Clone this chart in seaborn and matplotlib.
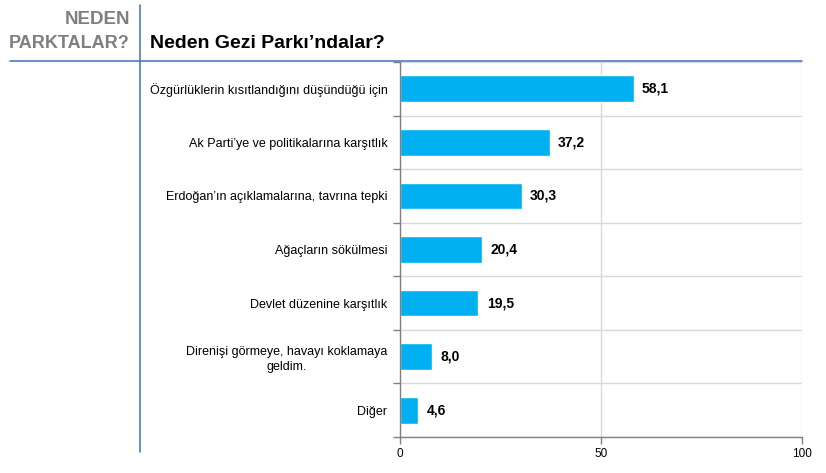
import matplotlib
matplotlib.use("Agg")
import matplotlib.pyplot as plt
import seaborn as sns
import pandas as pd
import numpy as np

categories = [
    "Özgürlüklerin kısıtlandığını düşündüğü için",
    "Ak Parti’ye ve politikalarına karşıtlık",
    "Erdoğan’ın açıklamalarına, tavrına tepki",
    "Ağaçların sökülmesi",
    "Devlet düzenine karşıtlık",
    "Direnişi görmeye, havayı koklamaya\ngeldim.",
    "Diğer",
]
values = [58.1, 37.2, 30.3, 20.4, 19.5, 8.0, 4.6]
value_labels = ["58,1", "37,2", "30,3", "20,4", "19,5", "8,0", "4,6"]
x_ticks = [0, 50, 100]

sns.set_theme(style="white")
plt.rcParams['font.family'] = ['Liberation Sans', 'DejaVu Sans']

df = pd.DataFrame({"cat": categories, "val": values})

fig = plt.figure(figsize=(8.26, 4.73), dpi=100)
ax = fig.add_axes([400/826, 1-437/473, 402/826, 375/473])
sns.barplot(data=df, y="cat", x="val", orient="h", color="#00B0F0",
            saturation=1, width=0.5, ax=ax)

ax.set_xlim(0, 100)
ax.set_ylim(len(categories) - 0.5, -0.5)
ax.set_xticks(x_ticks)
ax.set_xticklabels([str(t) for t in x_ticks], fontsize=8.5, color="black")
ax.set_xlabel("")
ax.set_ylabel("")
ax.set_yticks(range(len(categories)))
ax.set_yticklabels(categories, fontsize=9, linespacing=1.3, color="black")
ax.set_yticks(np.arange(-0.5, len(categories), 1), minor=True)
ax.tick_params(axis="y", which="major", length=0, pad=9)
ax.tick_params(axis="y", which="minor", length=5, color="#808080", width=1, left=True)
ax.tick_params(axis="x", which="major", length=5, color="#808080", width=1, bottom=True, pad=3)
ax.grid(False)
ax.grid(True, axis="y", which="minor", color="#D9D9D9", lw=1)
ax.grid(True, axis="x", which="major", color="#D9D9D9", lw=1)
ax.set_axisbelow(True)
for s in ["top", "right"]:
    ax.spines[s].set_visible(False)
for s in ["left", "bottom"]:
    ax.spines[s].set_color("#808080")
    ax.spines[s].set_linewidth(1)
for lab in ax.get_yticklabels():
    lab.set_horizontalalignment("right")
    lab.set_multialignment("center")

for i, (v, lab) in enumerate(zip(values, value_labels)):
    ax.annotate(lab, (v, i), xytext=(6, 0), textcoords="offset points",
                va="center", ha="left", fontsize=10, fontweight="bold",
                color="black")

# header lines
fig.add_artist(plt.Line2D([10/826, 802/826], [1-61/473, 1-61/473], color="#4A7EBB", lw=1.2))
fig.add_artist(plt.Line2D([140/826, 140/826], [1-5/473, 1-452/473], color="#4A7EBB", lw=1.2))

fig.text(130/826, 1-20/473, "NEDEN", ha="right", va="center", fontsize=13.5,
         fontweight="bold", color="#7F7F7F")
fig.text(130/826, 1-43/473, "PARKTALAR?", ha="right", va="center", fontsize=13,
         fontweight="bold", color="#7F7F7F")
fig.text(150/826, 1-44/473, "Neden Gezi Parkı’ndalar?", ha="left", va="center",
         fontsize=14, fontweight="bold", color="black")

fig.savefig("out.png", dpi=100)
